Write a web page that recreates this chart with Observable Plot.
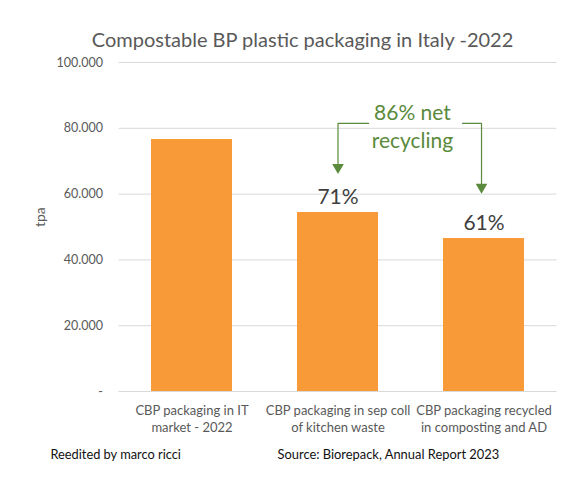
<!DOCTYPE html>
<html>
<head>
<meta charset="utf-8">
<script src="https://cdn.jsdelivr.net/npm/d3@7"></script>
<script src="https://cdn.jsdelivr.net/npm/@observablehq/plot@0.6"></script>
<style>
  html, body { margin: 0; padding: 0; background: #fff; }
  #chart svg { display: block; }
</style>
</head>
<body>
<div id="chart"></div>
<script>
// ---- data ----
const categories = [
  "CBP packaging in IT\nmarket - 2022",
  "CBP packaging in sep coll\nof kitchen waste",
  "CBP packaging recycled\nin composting and AD"
];
const values = [76600, 54400, 46500];          // tpa
const pctLabels = ["", "71%", "61%"];
const yTicks = [0, 20000, 40000, 60000, 80000, 100000];
const titleText = "Compostable BP plastic packaging in Italy -2022";
const yLabel = "tpa";
const noteText = "86% net\nrecycling";
const creditText = "Reedited by marco ricci";
const sourceText = "Source: Biorepack, Annual Report 2023";

// ---- tables built from the arrays ----
const bars = categories.map((c, i) => ({i, cat: c, v: values[i], pct: pctLabels[i]}));
const half = 0.2775;
const green = "#5A8A3C";
const fmt = d3.formatLocale({decimal: ",", thousands: ".", grouping: [3], currency: ["", ""]}).format(",.0f");

// bracket arrows (data coordinates: index on x, tpa on y)
const bracketLeft  = [{x: 1.21, y: 81500}, {x: 1.0, y: 81500}, {x: 1.0, y: 68000}];
const bracketRight = [{x: 1.853, y: 81500}, {x: 1.983, y: 81500}, {x: 1.983, y: 62000}];
const arrowTips = [{x: 1.0, y: 67200}, {x: 1.983, y: 61200}];

const plot = Plot.plot({
  width: 563,
  height: 478,
  marginLeft: 118.5,
  marginRight: 6.5,
  marginTop: 62,
  marginBottom: 87,
  style: {fontFamily: "Lato, 'Open Sans', sans-serif", background: "#fff", overflow: "visible"},
  x: {domain: [-0.5, 2.5], axis: null},
  y: {domain: [0, 100000], axis: null},
  marks: [
    Plot.gridY(yTicks, {stroke: "#D9D9D9", strokeOpacity: 1, strokeWidth: 1}),
    Plot.text(yTicks, {
      y: d => d, frameAnchor: "left", dx: -16, textAnchor: "end",
      text: d => d === 0 ? "-" : fmt(d),
      fontSize: 12.5, fill: "#595959"
    }),
    Plot.rect(bars, {x1: d => d.i - half, x2: d => d.i + half, y1: 0, y2: "v", fill: "#F99A38"}),
    Plot.text(bars, {
      x: "i", y: "v", text: "pct", lineAnchor: "bottom", dy: -9,
      fontSize: 21, fill: "#404040"
    }),
    Plot.text(bars, {
      x: "i", y: 0, text: "cat", lineAnchor: "top", dy: 11, lineHeight: 1.33,
      fontSize: 13, fill: "#595959"
    }),
    Plot.line(bracketLeft, {x: "x", y: "y", stroke: green, strokeWidth: 1.2}),
    Plot.line(bracketRight, {x: "x", y: "y", stroke: green, strokeWidth: 1.2}),
    Plot.dot(arrowTips, {x: "x", y: "y", symbol: "triangle", r: 4.3, rotate: 180, fill: green, stroke: "none", dy: -3}),
    Plot.text([noteText], {
      x: 1.51, y: 81000, text: d => d, lineHeight: 1.36,
      fontSize: 21, fill: green
    }),
    Plot.text([titleText], {frameAnchor: "top", dy: -30, dx: -35.5, text: d => d, fontSize: 20, fill: "#595959"}),
    Plot.text([yLabel], {frameAnchor: "left", dx: -78, rotate: -90, text: d => d, fontSize: 14, fill: "#595959"}),
    Plot.text([creditText], {frameAnchor: "bottom-left", dx: -68.5, dy: 67, textAnchor: "start", text: d => d, fontSize: 12.8, fill: "#111"}),
    Plot.text([sourceText], {frameAnchor: "bottom-left", dx: 158.5, dy: 67, textAnchor: "start", text: d => d, fontSize: 12.9, fill: "#111"})
  ]
});
document.getElementById("chart").appendChild(plot);
</script>
</body>
</html>
